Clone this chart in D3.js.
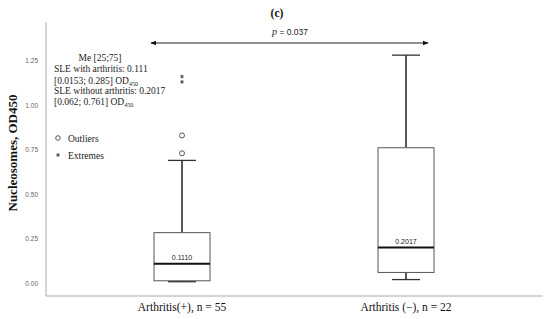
<!DOCTYPE html>
<html><head><meta charset="utf-8">
<script src="https://cdn.jsdelivr.net/npm/d3@7"></script>
<style>body{margin:0;background:#fff}svg{display:block}</style>
</head><body>
<script>
// ---- data ----
const categories = ["Arthritis(+), n = 55", "Arthritis (\u2212), n = 22"];
const whiskerLow = [0.010, 0.022];
const q1 = [0.0153, 0.062];
const median = [0.111, 0.2017];
const q3 = [0.285, 0.761];
const whiskerHigh = [0.69, 1.28];
const medianLabels = ["0.1110", "0.2017"];
const outliers = [[0.73, 0.83], []];
const extremes = [[1.13, 1.16], []];
const yTicks = [0, 0.25, 0.5, 0.75, 1.0, 1.25];
const pValue = "0.037";

const W = 550, H = 319;
const svg = d3.select("body").append("svg").attr("width", W).attr("height", H);

const y = d3.scaleLinear().domain([0, 1.25]).range([283.5, 60.5]);
const x = d3.scalePoint().domain(categories).range([182, 406]);
const axisX = 46, axisTop = 22, axisBottom = 296;

// axes lines
svg.append("line").attr("x1", axisX).attr("x2", axisX).attr("y1", axisTop).attr("y2", axisBottom)
  .attr("stroke", "#aaa").attr("stroke-width", 1);
svg.append("line").attr("x1", axisX).attr("x2", 543).attr("y1", axisBottom).attr("y2", axisBottom)
  .attr("stroke", "#aaa").attr("stroke-width", 1);

// y tick labels via axis
const yAxis = d3.axisLeft(y).tickValues(yTicks).tickFormat(d3.format(".2f")).tickSize(0).tickPadding(8);
const gy = svg.append("g").attr("transform", `translate(${axisX},0)`).call(yAxis);
gy.select(".domain").remove();
gy.selectAll("text").attr("font-family", "Liberation Sans, Arial, sans-serif").attr("font-size", 6.5).attr("fill", "#666");

// y title
svg.append("text").attr("transform", "translate(17,153) rotate(-90)").attr("text-anchor", "middle")
  .attr("font-family", "Liberation Serif, Times New Roman, serif").attr("font-weight", "bold").attr("font-size", 13)
  .attr("fill", "#111").text("Nucleosomes, OD450");

// x labels
svg.selectAll(".xl").data(categories).enter().append("text")
  .attr("x", d => x(d)).attr("y", 311).attr("text-anchor", "middle")
  .attr("font-family", "Liberation Serif, Times New Roman, serif").attr("font-size", 11.5).attr("fill", "#111")
  .text(d => d);

// boxes
const bw = 56, cw = 28;
categories.forEach((c, i) => {
  const cx = x(c);
  const g = svg.append("g");
  g.append("line").attr("x1", cx).attr("x2", cx).attr("y1", y(q3[i])).attr("y2", y(whiskerHigh[i])).attr("stroke", "#222").attr("stroke-width", 1.5);
  g.append("line").attr("x1", cx).attr("x2", cx).attr("y1", y(q1[i])).attr("y2", y(whiskerLow[i])).attr("stroke", "#222").attr("stroke-width", 1.5);
  g.append("line").attr("x1", cx - cw / 2).attr("x2", cx + cw / 2).attr("y1", y(whiskerHigh[i])).attr("y2", y(whiskerHigh[i])).attr("stroke", "#333").attr("stroke-width", 1.3);
  g.append("line").attr("x1", cx - cw / 2).attr("x2", cx + cw / 2).attr("y1", y(whiskerLow[i])).attr("y2", y(whiskerLow[i])).attr("stroke", "#333").attr("stroke-width", 1.3);
  g.append("rect").attr("x", cx - bw / 2).attr("y", y(q3[i])).attr("width", bw).attr("height", y(q1[i]) - y(q3[i]))
    .attr("fill", "#fff").attr("stroke", "#555").attr("stroke-width", 1);
  g.append("line").attr("x1", cx - bw / 2).attr("x2", cx + bw / 2).attr("y1", y(median[i])).attr("y2", y(median[i])).attr("stroke", "#111").attr("stroke-width", 2);
  g.append("text").attr("x", cx).attr("y", y(median[i]) - 3.5).attr("text-anchor", "middle")
    .attr("font-family", "Liberation Sans, Arial, sans-serif").attr("font-size", 7).attr("fill", "#222").text(medianLabels[i]);
  g.selectAll(".o").data(outliers[i]).enter().append("circle").attr("cx", cx).attr("cy", d => y(d)).attr("r", 2.5)
    .attr("fill", "none").attr("stroke", "#555").attr("stroke-width", 1);
  g.selectAll(".e").data(extremes[i]).enter().append("path")
    .attr("transform", d => `translate(${cx},${y(d)})`)
    .attr("d", d3.symbol().type(d3.symbolAsterisk).size(9))
    .attr("fill", "none").attr("stroke", "#444").attr("stroke-width", 1);
});

// p-value arrow
const c0 = x(categories[0]), c1 = x(categories[1]);
const defs = svg.append("defs");
defs.append("marker").attr("id", "ah").attr("viewBox", "0 0 10 10").attr("refX", 9).attr("refY", 5)
  .attr("markerWidth", 5).attr("markerHeight", 5).attr("orient", "auto-start-reverse")
  .append("path").attr("d", "M0,1 L10,5 L0,9 Z").attr("fill", "#111");
svg.append("line").attr("x1", c0 - 31).attr("x2", c1 + 22).attr("y1", 43).attr("y2", 43)
  .attr("stroke", "#222").attr("stroke-width", 1.2).attr("marker-start", "url(#ah)").attr("marker-end", "url(#ah)");
const pt = svg.append("text").attr("x", 290).attr("y", 35).attr("text-anchor", "middle")
  .attr("font-family", "Liberation Sans, Arial, sans-serif").attr("font-size", 8.5).attr("fill", "#222");
pt.append("tspan").attr("font-family", "Liberation Serif, Times New Roman, serif").attr("font-style", "italic").attr("font-size", 10).text("p");
pt.append("tspan").text(" = " + pValue);

// title
svg.append("text").attr("x", 277).attr("y", 17).attr("text-anchor", "middle")
  .attr("font-family", "Liberation Serif, Times New Roman, serif").attr("font-weight", "bold").attr("font-size", 11.5).attr("fill", "#111").text("(c)");

// legend text
const serif = "Liberation Serif, Times New Roman, serif";
const lg = svg.append("g").attr("font-family", serif).attr("font-size", 9.5).attr("fill", "#222");
lg.append("text").attr("x", 100).attr("y", 61).attr("text-anchor", "middle").text("Me [25;75]");
lg.append("text").attr("x", 54).attr("y", 72).text("SLE with arthritis: 0.111");
let t = lg.append("text").attr("x", 54).attr("y", 84);
t.append("tspan").text("[0.0153; 0.285] OD");
t.append("tspan").attr("font-size", 6).attr("dy", 2).text("450");
lg.append("text").attr("x", 54).attr("y", 94).text("SLE without arthritis: 0.2017");
t = lg.append("text").attr("x", 54).attr("y", 105);
t.append("tspan").text("[0.062; 0.761] OD");
t.append("tspan").attr("font-size", 6).attr("dy", 2).text("450");

svg.append("circle").attr("cx", 58).attr("cy", 138).attr("r", 2.3).attr("fill", "none").attr("stroke", "#555");
lg.append("text").attr("x", 68).attr("y", 141.5).text("Outliers");
svg.append("path").attr("transform", "translate(58,155)").attr("d", d3.symbol().type(d3.symbolAsterisk).size(9))
  .attr("fill", "none").attr("stroke", "#444").attr("stroke-width", 1);
lg.append("text").attr("x", 68).attr("y", 158.5).text("Extremes");
</script>
</body></html>
